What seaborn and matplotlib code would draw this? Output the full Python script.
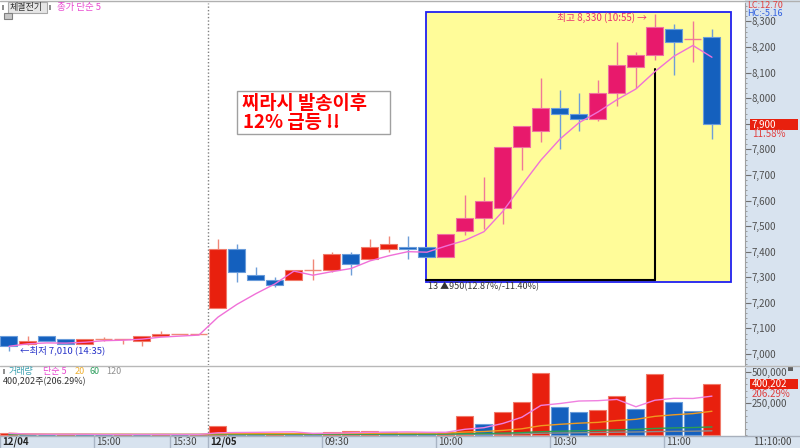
import numpy as np
import pandas as pd
import matplotlib
matplotlib.use('Agg')
import matplotlib.pyplot as plt
from matplotlib.patches import Rectangle
from matplotlib.lines import Line2D
from matplotlib.ticker import MultipleLocator, FuncFormatter
import seaborn as sns

# 5-minute candles, 12/04 14:35 .. 12/05 11:10
opens = [7070, 7040, 7070, 7060, 7040, 7060, 7060, 7050, 7070, 7080, 7080,
         7180, 7410, 7310, 7290, 7290, 7330, 7330, 7390, 7370, 7410, 7420, 7420,
         7380, 7480, 7530, 7570, 7810, 7870, 7960, 7940, 7920, 8020, 8120, 8170,
         8270, 8230, 8240]
highs = [7070, 7070, 7070, 7060, 7060, 7065, 7060, 7070, 7090, 7080, 7080,
         7450, 7430, 7340, 7300, 7330, 7370, 7400, 7400, 7450, 7460, 7460, 7420,
         7470, 7620, 7690, 7810, 7890, 8080, 8030, 8020, 8070, 8220, 8180, 8330,
         8290, 8300, 8270]
lows = [7010, 7035, 7050, 7040, 7040, 7050, 7040, 7030, 7070, 7080, 7080,
        7180, 7280, 7290, 7260, 7290, 7290, 7320, 7310, 7370, 7400, 7370, 7380,
        7380, 7465, 7490, 7510, 7720, 7830, 7800, 7870, 7910, 7970, 8040, 8150,
        8090, 8140, 7840]
closes = [7030, 7050, 7050, 7040, 7060, 7060, 7060, 7070, 7080, 7080, 7080,
          7410, 7320, 7290, 7270, 7330, 7330, 7390, 7350, 7420, 7430, 7410, 7380,
          7470, 7530, 7600, 7810, 7890, 7960, 7940, 7920, 8020, 8130, 8170, 8280,
          8220, 8230, 7900]
volumes = [13000, 3000, 2000, 6000, 5000, 3000, 5000, 3000, 6000, 3000, 4000,
           71000, 15000, 12000, 14000, 13000, 8000, 26000, 28000, 31000, 22000, 15000, 13000,
           26000, 150000, 85000, 184000, 259000, 493000, 224000, 184000, 198000, 308000,
           203000, 483000, 259000, 192000, 400202]
# longer volume averages (need history before the window)
vol_ma60 = [4000, 4000, 4000, 4000, 4000, 4000, 4000, 4000, 4000, 4000, 4000,
            5000, 5000, 5000, 5000, 6000, 6000, 6000, 6000, 7000, 7000, 7000, 7000,
            8000, 10000, 12000, 15000, 19000, 26000, 30000, 33000, 37000, 41000,
            45000, 52000, 56000, 59000, 64000]
vol_ma120 = [3000, 3000, 3000, 3000, 3000, 3000, 3000, 3000, 3000, 3000, 3000,
             3000, 3000, 3000, 3000, 3000, 3000, 3000, 3000, 3000, 3000, 3000, 3000,
             4000, 5000, 6000, 8000, 10000, 14000, 16000, 18000, 20000, 22000,
             24000, 27000, 29000, 30000, 33000]

tick_pos = [-0.47, 4.5, 8.5, 10.5, 16.5, 22.5, 28.5, 34.5]
tick_labels = ['12/04', '15:00', '15:30', '12/05', '09:30', '10:00', '10:30', '11:00']

RED, RED_EDGE, RED_WICK = '#E8200E', '#F07A6A', '#F08878'
PINK, PINK_EDGE, PINK_WICK = '#E8196C', '#F070A0', '#F07898'
BLUE, BLUE_EDGE, BLUE_WICK = '#1460BE', '#6A9CDA', '#6E9ED8'
PANEL = '#D8E3EF'

sns.set_theme(style='white')
plt.rcParams['font.family'] = ['Noto Sans CJK KR', 'DejaVu Sans']

df = pd.DataFrame({'open': opens, 'high': highs, 'low': lows, 'close': closes,
                   'volume': volumes, 'vma60': vol_ma60, 'vma120': vol_ma120})
df['ma5'] = df['close'].rolling(5, min_periods=1).mean()
df['vma5'] = df['volume'].rolling(5, min_periods=1).mean()
df['vma20'] = df['volume'].rolling(20, min_periods=1).mean()
idx = np.arange(len(df))

W, H = 800, 448


def fx(x):
    return x / W


def fy(y):
    return 1 - y / H


fig = plt.figure(figsize=(8, 4.48), dpi=100)
fig.add_artist(Rectangle((fx(745), 0), fx(55), 1, transform=fig.transFigure,
                         fc=PANEL, ec='none', zorder=-1))
fig.add_artist(Rectangle((0, 0), 1, 12 / H, transform=fig.transFigure,
                         fc=PANEL, ec='none', zorder=-1))

ax = fig.add_axes([0, fy(365), fx(745), 362 / H])
axv = fig.add_axes([0, fy(436), fx(745), 68 / H])
xlim = (-0.47, 38.74)

# ---- highlight box
ax.add_patch(Rectangle((21.95, 7280), 38.0 - 21.95, 8337 - 7280,
                       fc='#FFFC99', ec='#2020F0', lw=1.3, zorder=1))
ax.plot([21.95, 34], [7289, 7289], color='black', lw=1.5, zorder=2)
ax.plot([34, 34], [7289, 8114], color='black', lw=1.5, zorder=2)

# ---- candles
in_box = idx >= 22
up = (df['close'] > df['open']).values
down = (df['close'] < df['open']).values
flat = ~(up | down)
body = np.where(up, np.where(in_box, PINK, RED), BLUE)
edge = np.where(up, np.where(in_box, PINK_EDGE, RED_EDGE), BLUE_EDGE)
wick = np.where(down, BLUE_WICK, np.where(in_box, PINK_WICK, RED_WICK))

ax.vlines(idx, df['low'], df['high'], colors=wick, lw=1, zorder=3)
solid = ~flat
ax.bar(idx[solid], (df['close'] - df['open']).abs()[solid],
       bottom=np.minimum(df['open'], df['close'])[solid], width=0.9,
       color=body[solid], edgecolor=edge[solid], lw=0.8, zorder=4)
ax.hlines(df['close'][flat], idx[flat] - 0.45, idx[flat] + 0.45,
          colors=wick[flat], lw=1, zorder=4)

sns.lineplot(x=idx, y=df['ma5'], ax=ax, color='#F070D8', lw=1, zorder=5, estimator=None)
ax.axvline(10.5, color='#808080', ls=(0, (1, 1.5)), lw=1, zorder=2)

ax.set_xlim(*xlim)
ax.set_ylim(6957, 8372)
ax.set_xlabel('')
ax.set_ylabel('')
ax.set_xticks([])
ax.yaxis.tick_right()
ax.set_yticks(np.arange(7000, 8301, 100))
ax.yaxis.set_minor_locator(MultipleLocator(20))
ax.yaxis.set_major_formatter(FuncFormatter(lambda v, p: f'{v:,.0f}'))
ax.tick_params(axis='y', which='major', direction='out', length=4, width=0.8,
               color='#707070', labelsize=7, labelcolor='#505050', pad=1, right=True)
ax.tick_params(axis='y', which='minor', direction='out', length=1.5, width=0.6,
               color='#909090', right=True)
for s in ['top', 'left', 'bottom']:
    ax.spines[s].set_visible(False)
ax.spines['right'].set_color('#A0A0A0')
ax.spines['right'].set_linewidth(0.8)

ax.text(33.58, 8317, '최고 8,330 (10:55) →', color='#E83070', fontsize=7,
        ha='right', va='center', zorder=6)
ax.text(0.58, 7016, '←최저 7,010 (14:35)', color='#2430C8', fontsize=6.8,
        ha='left', va='center', zorder=6)
ax.text(22.05, 7262, '13 ▲950(12.87%/-11.40%)', color='#333333', fontsize=6.5,
        ha='left', va='center', zorder=6)

# ---- volume panel
vup = np.r_[True, np.diff(df['volume'].values) > 0]
axv.bar(idx, df['volume'], width=0.9, color=np.where(vup, RED, BLUE),
        edgecolor=np.where(vup, RED_EDGE, BLUE_EDGE), lw=0.8, zorder=2)
sns.lineplot(x=idx, y=df['vma120'], ax=axv, color='#8C8C8C', lw=1, zorder=3, estimator=None)
sns.lineplot(x=idx, y=df['vma60'], ax=axv, color='#2E9E50', lw=1, zorder=3, estimator=None)
sns.lineplot(x=idx, y=df['vma20'], ax=axv, color='#F09A20', lw=1, zorder=3, estimator=None)
sns.lineplot(x=idx, y=df['vma5'], ax=axv, color='#F080E0', lw=1, zorder=3, estimator=None)
axv.axvline(10.5, color='#808080', ls=(0, (1, 1.5)), lw=1, zorder=1)

axv.set_xlim(*xlim)
axv.set_ylim(-7900, 530000)
axv.set_xlabel('')
axv.set_ylabel('')
axv.set_xticks([])
axv.yaxis.tick_right()
axv.set_yticks([250000, 500000])
axv.yaxis.set_minor_locator(MultipleLocator(50000))
axv.yaxis.set_major_formatter(FuncFormatter(lambda v, p: f'{v:,.0f}'))
axv.tick_params(axis='y', which='major', direction='out', length=4, width=0.8,
                color='#707070', labelsize=7, labelcolor='#505050', pad=1, right=True)
axv.tick_params(axis='y', which='minor', direction='out', length=1.5, width=0.6,
                color='#909090', right=True)
for s in ['top', 'left', 'bottom']:
    axv.spines[s].set_visible(False)
axv.spines['right'].set_color('#A0A0A0')
axv.spines['right'].set_linewidth(0.8)

# time axis band
xt = axv.get_xaxis_transform()
axv.vlines(tick_pos, -12 / 68, 0, colors='#A8B4C4', lw=1, transform=xt, clip_on=False)
for p, lab in zip(tick_pos, tick_labels):
    bold = '/' in lab
    axv.text(p + 0.1, -6 / 68, lab, transform=xt, ha='left', va='center',
             fontsize=7, color='#222222' if bold else '#444444',
             fontweight='bold' if bold else 'normal', clip_on=False)
fig.text(fx(753), fy(442), '11:10:00', fontsize=7, color='#444444', va='center')

# separators
for yy, c in [(1, '#B0B0B0'), (365.5, '#B8B8B8'), (436, '#A8B0BC')]:
    fig.add_artist(Line2D([0, 1], [fy(yy), fy(yy)], transform=fig.transFigure,
                          color=c, lw=1))

# ---- legends / labels (top left)
fig.add_artist(Rectangle((fx(2), fy(10)), fx(2), 5 / H, transform=fig.transFigure,
                         fc='#909090', ec='none'))
fig.add_artist(Rectangle((fx(8), fy(13)), fx(39), 11 / H, transform=fig.transFigure,
                         fc='#E6E6E6', ec='#A8A8A8', lw=0.8))
fig.text(fx(10), fy(7.5), '체결전기', fontsize=6.5, color='#333333', va='center')
fig.add_artist(Rectangle((fx(49), fy(10)), fx(2), 5 / H, transform=fig.transFigure,
                         fc='#909090', ec='none'))
fig.text(fx(57), fy(7.5), '종가 단순 5', fontsize=6.8, color='#E848D0', va='center')
fig.add_artist(Rectangle((fx(4), fy(19)), fx(8), 6 / H, transform=fig.transFigure,
                         fc='#C8C8C8', ec='#808080', lw=0.8))

# volume legend
fig.add_artist(Rectangle((fx(3), fy(374)), fx(2), 5 / H, transform=fig.transFigure,
                         fc='#909090', ec='none'))
for x0, t, c in [(9, '거래량', '#3AA0B0'), (43, '단순 5', '#E848D0'),
                 (75, '20', '#F0B030'), (90, '60', '#30A060'), (106, '120', '#909090')]:
    fig.text(fx(x0), fy(371.5), t, fontsize=6.5, color=c, va='center')
fig.text(fx(3), fy(381.5), '400,202주(206.29%)', fontsize=6.5, color='#333333', va='center')

# ---- right panel labels
fig.text(fx(747), fy(5.5), 'LC:12.70', fontsize=6.5, color='#E04040', va='center')
fig.text(fx(747), fy(13.5), 'HC:-5.16', fontsize=6.5, color='#3060E0', va='center')
fig.add_artist(Rectangle((fx(750), fy(130)), fx(48), 11 / H, transform=fig.transFigure,
                         fc='#E8200E', ec='none', zorder=3))
fig.text(fx(752), fy(124.5), '7,900', fontsize=7, color='white', va='center', zorder=4)
fig.text(fx(752), fy(134), '11.58%', fontsize=7, color='#E04040', va='center')
fig.add_artist(Rectangle((fx(750), fy(389)), fx(48), 10 / H, transform=fig.transFigure,
                         fc='#E8200E', ec='none', zorder=3))
fig.text(fx(752), fy(384), '400,202', fontsize=7, color='white', va='center', zorder=4)
fig.text(fx(752), fy(393.5), '206.29%', fontsize=7, color='#E04040', va='center')
fig.add_artist(Rectangle((fx(788), fy(371)), fx(5), 5 / H, transform=fig.transFigure,
                         fc='#606060', ec='none'))

# ---- callout
fig.add_artist(Rectangle((fx(237), fy(134)), fx(153), 43 / H, transform=fig.transFigure,
                         fc='white', ec='#A0A0A0', lw=1, zorder=5))
fig.text(fx(242), fy(103.5), '찌라시 발송이후', fontsize=13.5, fontweight='bold',
         fontstyle='italic', color='#FF0000', va='center', zorder=6)
fig.text(fx(243), fy(122.5), '12% 급등 !!', fontsize=13.5, fontweight='bold',
         fontstyle='italic', color='#FF0000', va='center', zorder=6)

fig.savefig('out.png', dpi=100)
